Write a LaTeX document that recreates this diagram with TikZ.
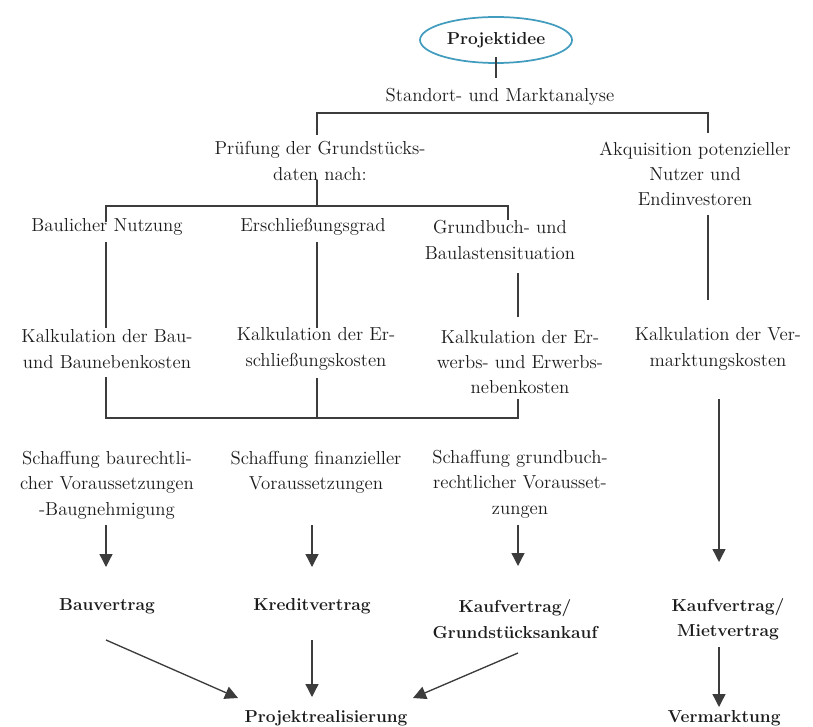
\documentclass[tikz,border=0pt]{standalone}
\usetikzlibrary{arrows.meta,shapes.geometric}
\definecolor{txt}{RGB}{28,28,28}
\definecolor{ln}{RGB}{60,60,60}
\definecolor{ell}{RGB}{66,156,190}
\begin{document}
\begin{tikzpicture}[x=0.75pt,y=-0.75pt,
  lbl/.style={align=center,inner sep=0pt,text=txt,font=\fontsize{14.1}{19}\selectfont},
  blbl/.style={lbl,font=\fontsize{13}{19}\selectfont\bfseries},
  conn/.style={draw=ln,line width=1pt},
  arr/.style={conn,-{Triangle[width=9.75pt,length=9.75pt]}}]
\useasboundingbox (0,0) rectangle (813,727);
% nodes
\node[blbl,ellipse,draw=ell,line width=1.3pt,minimum width=114pt,minimum height=34.5pt] (idee) at (496,40) {Projektidee};
\node[lbl] (sma) at (500,97) {Standort- und Marktanalyse};
\node[lbl] (pruef) at (320,161) {Prüfung der Grundstücks-\\daten nach:};
\node[lbl] (akq) at (695,174) {Akquisition potenzieller\\Nutzer und\\Endinvestoren};
\node[lbl] (baul) at (107,227) {Baulicher Nutzung};
\node[lbl] (ersch) at (313,227) {Erschließungsgrad};
\node[lbl] (grund) at (500,240) {Grundbuch- und\\Baulastensituation};
\node[lbl] (kbau) at (107,349) {Kalkulation der Bau-\\und Baunebenkosten};
\node[lbl] (kersch) at (316,349) {Kalkulation der Er-\\schließungskosten};
\node[lbl] (kerw) at (520,362) {Kalkulation der Er-\\werbs- und Erwerbs-\\nebenkosten};
\node[lbl] (kverm) at (718,349) {Kalkulation der Ver-\\marktungskosten};
\node[lbl] (sbau) at (107,485) {Schaffung baurechtli-\\cher Voraussetzungen\\-Baugnehmigung};
\node[lbl] (sfin) at (316,472) {Schaffung finanzieller\\Voraussetzungen};
\node[lbl] (sgrund) at (520,484) {Schaffung grundbuch-\\rechtlicher Vorausset-\\zungen};
\node[blbl] (bauv) at (107,606) {Bauvertrag};
\node[blbl] (kredv) at (312,606) {Kreditvertrag};
\node[blbl] (kaufg) at (515,619) {Kaufvertrag/\\Grundstücksankauf};
\node[blbl] (kaufm) at (728,619) {Kaufvertrag/\\Mietvertrag};
\node[blbl] (proj) at (326,718) {Projektrealisierung};
\node[blbl] (verm) at (724,718) {Vermarktung};
% coordinates
\coordinate (a1) at (496,57); \coordinate (a2) at (496,78);
\coordinate (b1) at (317,113); \coordinate (b2) at (708,113);
\coordinate (b3) at (317,135); \coordinate (b4) at (708,133);
\coordinate (c1) at (317,180); \coordinate (c2) at (317,206);
\coordinate (c3) at (106,206); \coordinate (c4) at (508,206);
\coordinate (c5) at (106,222); \coordinate (c6) at (508,220);
\coordinate (d1) at (106,242); \coordinate (d2) at (106,328);
\coordinate (d3) at (317,242); \coordinate (d4) at (317,328);
\coordinate (d5) at (518,273); \coordinate (d6) at (518,317);
\coordinate (d7) at (708,215); \coordinate (d8) at (708,300);
\coordinate (e1) at (106,377); \coordinate (e2) at (106,418);
\coordinate (e3) at (518,418); \coordinate (e4) at (518,399);
\coordinate (e5) at (317,378); \coordinate (e6) at (317,418);
\coordinate (f1) at (719,399); \coordinate (f2) at (719,562);
\coordinate (g1) at (106,525); \coordinate (g2) at (106,567);
\coordinate (g3) at (312,525); \coordinate (g4) at (312,567);
\coordinate (g5) at (518,525); \coordinate (g6) at (518,566);
\coordinate (h1) at (106,640); \coordinate (h2) at (238,698);
\coordinate (h3) at (312,640); \coordinate (h4) at (312,697);
\coordinate (h5) at (518,653); \coordinate (h6) at (413,698);
\coordinate (h7) at (719,647); \coordinate (h8) at (719,707);
% connectors
\draw[conn] (a1) -- (a2);
\draw[conn] (b3) -- (b1) -- (b2) -- (b4);
\draw[conn] (c1) -- (c2);
\draw[conn] (c5) -- (c3) -- (c4) -- (c6);
\draw[conn] (d1) -- (d2);
\draw[conn] (d3) -- (d4);
\draw[conn] (d5) -- (d6);
\draw[conn] (d7) -- (d8);
\draw[conn] (e1) -- (e2) -- (e3) -- (e4);
\draw[conn] (e5) -- (e6);
\draw[arr] (f1) -- (f2);
\draw[arr] (g1) -- (g2);
\draw[arr] (g3) -- (g4);
\draw[arr] (g5) -- (g6);
\draw[arr] (h1) -- (h2);
\draw[arr] (h3) -- (h4);
\draw[arr] (h5) -- (h6);
\draw[arr] (h7) -- (h8);
\end{tikzpicture}
\end{document}
